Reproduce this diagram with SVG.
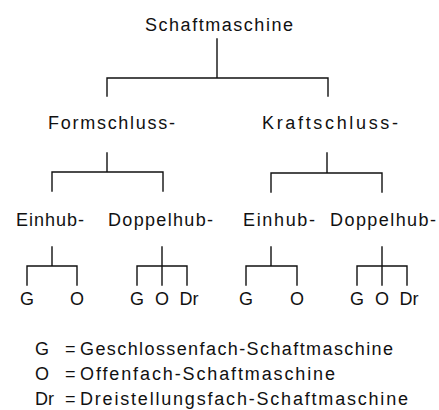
<svg xmlns="http://www.w3.org/2000/svg" width="439" height="410" viewBox="0 0 439 410">
<style>
text{font-family:"Liberation Sans","DejaVu Sans",Arial,sans-serif;font-size:18px;fill:#111}
.m{text-anchor:middle}
.c path{stroke:#111;stroke-width:1.4;fill:none;stroke-linecap:square}
</style>
<rect width="439" height="410" fill="#fff"/>
<g class="c" id="connectors">
<path d="M217 39V78M107 78H328M107 78V96M328 78V96"/>
<path d="M107 153V172M52 172H163M52 172V191M163 172V191"/>
<path d="M327 153V173M271 173H382M271 173V192M382 173V192"/>
<path d="M52 247V266M27 266H77M27 266V285M77 266V285"/>
<path d="M162 247V285M137 266H187M137 266V285M187 266V285"/>
<path d="M271 247V266M246 266H297M246 266V285M297 266V285"/>
<path d="M382 247V285M357 266H407M357 266V285M407 266V285"/>
</g>
<g id="root"><text x="145" y="31" textLength="148" lengthAdjust="spacing">Schaftmaschine</text></g>
<g id="form"><text x="48" y="129" textLength="127" lengthAdjust="spacing">Formschluss-</text></g>
<g id="kraft"><text x="262" y="129" textLength="136" lengthAdjust="spacing">Kraftschluss-</text></g>
<g id="form-ein"><text x="16" y="226" textLength="68" lengthAdjust="spacing">Einhub-</text></g>
<g id="form-dop"><text x="108" y="226" textLength="105" lengthAdjust="spacing">Doppelhub-</text></g>
<g id="kraft-ein"><text x="243" y="226" textLength="72" lengthAdjust="spacing">Einhub-</text></g>
<g id="kraft-dop"><text x="330" y="226" textLength="106" lengthAdjust="spacing">Doppelhub-</text></g>
<g id="fe-g"><text class="m" x="27" y="305">G</text></g>
<g id="fe-o"><text class="m" x="77" y="305">O</text></g>
<g id="fd-g"><text class="m" x="137" y="305">G</text></g>
<g id="fd-o"><text class="m" x="162" y="305">O</text></g>
<g id="fd-dr"><text class="m" x="189" y="305">Dr</text></g>
<g id="ke-g"><text class="m" x="246" y="305">G</text></g>
<g id="ke-o"><text class="m" x="297" y="305">O</text></g>
<g id="kd-g"><text class="m" x="357" y="305">G</text></g>
<g id="kd-o"><text class="m" x="382" y="305">O</text></g>
<g id="kd-dr"><text class="m" x="409" y="305">Dr</text></g>
<g id="legend">
<text x="35" y="355">G</text><text x="65" y="355">=</text><text x="80" y="355" textLength="313" lengthAdjust="spacing">Geschlossenfach-Schaftmaschine</text>
<text x="35" y="380">O</text><text x="65" y="380">=</text><text x="80" y="380" textLength="255" lengthAdjust="spacing">Offenfach-Schaftmaschine</text>
<text x="35" y="405">Dr</text><text x="65" y="405">=</text><text x="80" y="405" textLength="328" lengthAdjust="spacing">Dreistellungsfach-Schaftmaschine</text>
</g>
</svg>
